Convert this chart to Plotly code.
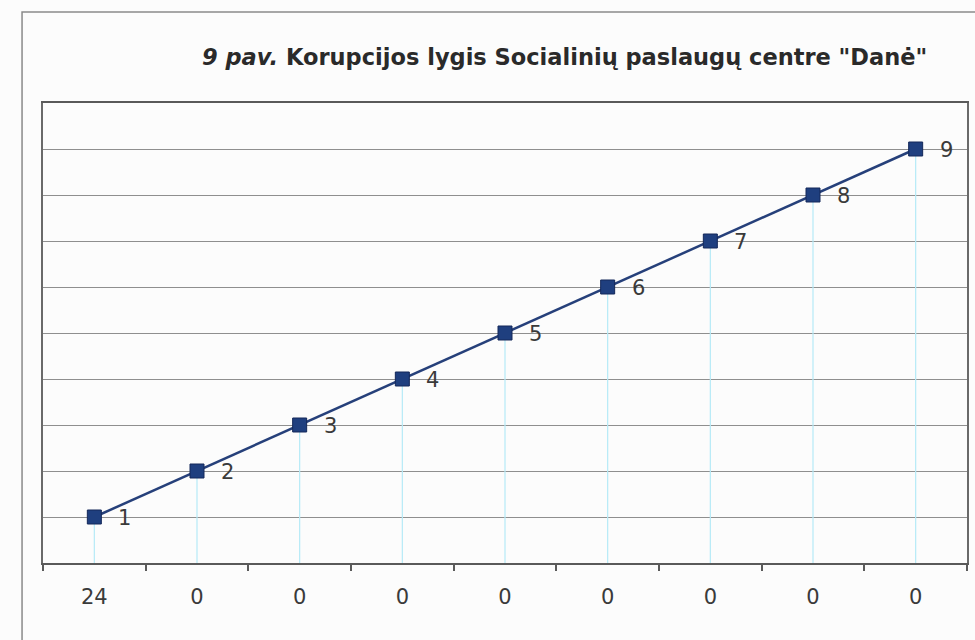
import plotly.graph_objects as go

positions = [1, 2, 3, 4, 5, 6, 7, 8, 9]
values = [1, 2, 3, 4, 5, 6, 7, 8, 9]
point_labels = ["1", "2", "3", "4", "5", "6", "7", "8", "9"]
tick_labels = ["24", "0", "0", "0", "0", "0", "0", "0", "0"]

FONT = "DejaVu Sans, Liberation Sans, Arial"
W, H = 975, 640
L, T = 43, 103
R = W - 969
B = H - 563
pw, ph = W - L - R, H - T - B

fig = go.Figure()
fig.add_trace(go.Scatter(
    x=positions, y=values,
    mode="lines+markers",
    line=dict(color="#26407a", width=2.5),
    marker=dict(symbol="square", size=14, color="#1f3f7f",
                line=dict(color="#14285a", width=1)),
    error_y=dict(type="data", symmetric=False, array=[0] * len(values),
                 arrayminus=values, color="#b5eaf7", thickness=1.2, width=0),
    hoverinfo="skip",
))

for xv, yv, t in zip(positions, values, point_labels):
    fig.add_annotation(x=xv, y=yv, text=t, showarrow=False, xanchor="left",
                       xshift=22, yshift=-1,
                       font=dict(family=FONT, size=21, color="#3a3a3a"))

fig.add_annotation(
    xref="paper", yref="paper",
    x=(566 - L) / pw, y=(563 - 57) / ph,
    text="<b><i>9 pav.</i> Korupcijos lygis Socialinių paslaugų centre \"Danė\"</b>",
    showarrow=False, xanchor="center", yanchor="middle",
    font=dict(family=FONT, size=22.5, color="#2a2a2a"),
)

# outer chart border
fig.add_shape(type="rect", xref="paper", yref="paper",
              x0=(22 - L) / pw, x1=(1000 - L) / pw,
              y0=(563 - 700) / ph, y1=(563 - 12) / ph,
              line=dict(color="#8a8a8a", width=1.5), layer="below")

fig.update_layout(
    width=W, height=H,
    margin=dict(l=L, r=R, t=T, b=B),
    paper_bgcolor="#fcfcfc", plot_bgcolor="#fcfcfc",
    showlegend=False,
    font=dict(family=FONT, color="#3a3a3a"),
)
fig.update_xaxes(
    range=[0.5, 9.5], tickmode="array", tickvals=positions, ticktext=tick_labels,
    ticks="", showgrid=False, zeroline=False,
    showline=True, linecolor="#5a5a5a", linewidth=2, mirror=True,
    tickfont=dict(family=FONT, size=21, color="#3a3a3a"),
    ticklabelstandoff=14,
    minor=dict(tickmode="linear", tick0=0.5, dtick=1, ticks="outside",
               ticklen=6, tickcolor="#5a5a5a", tickwidth=1.5, showgrid=False),
)
fig.update_yaxes(
    range=[0, 10], dtick=1, showticklabels=False, ticks="",
    showgrid=True, gridcolor="#8f8f8f", gridwidth=1.2, zeroline=False,
    showline=True, linecolor="#6a6a6a", linewidth=1.5, mirror=True,
)

fig.write_html("out.html", config={"displayModeBar": False},
               post_script="document.body.style.margin='0';document.body.style.overflow='hidden';")
